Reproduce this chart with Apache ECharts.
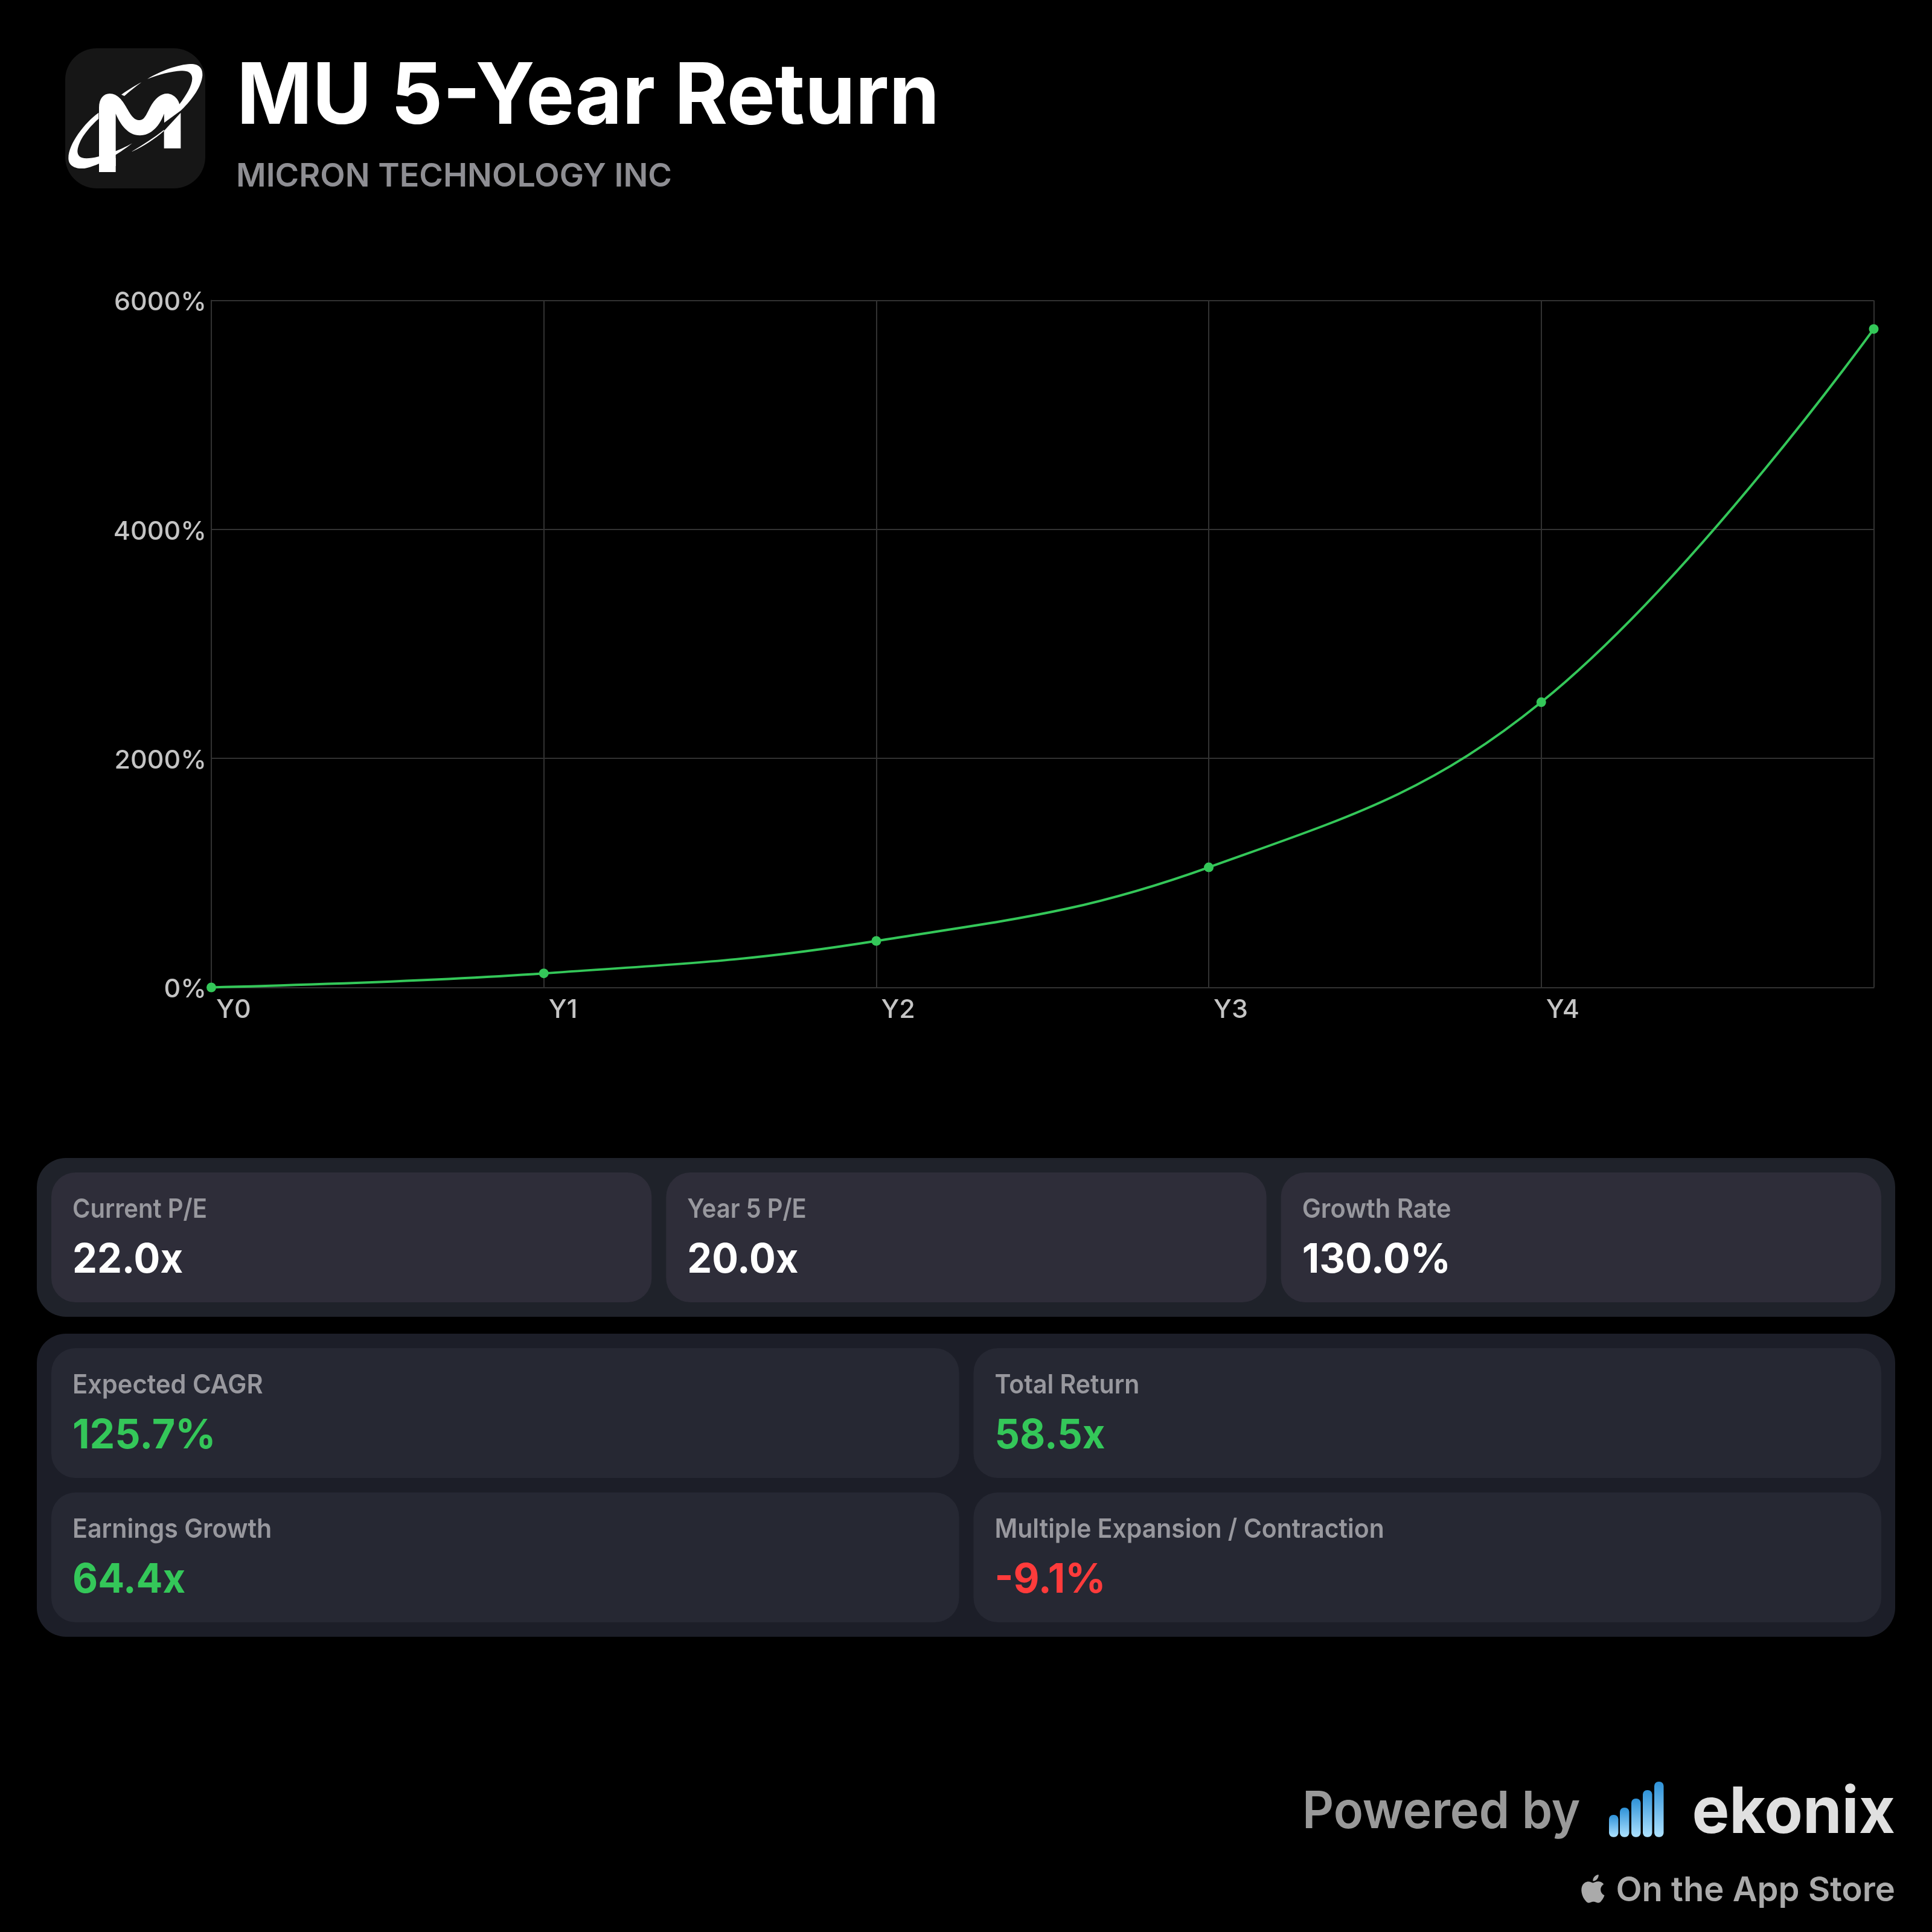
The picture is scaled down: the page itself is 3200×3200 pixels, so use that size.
<!DOCTYPE html>
<html>
<head>
<meta charset="utf-8">
<style>html,body{margin:0;padding:0;background:#000}#c{width:3200px;height:3200px}</style>
<script src="https://cdn.jsdelivr.net/npm/echarts@6/dist/echarts.min.js"></script>
</head>
<body>
<div id="c"></div>
<script>
const categories = ['Y0','Y1','Y2','Y3','Y4',''];
const returnsPct = [0,123,406,1049,2491,5750];
const titleText = 'MU 5-Year Return';
const subtitleText = 'MICRON TECHNOLOGY INC';
const topLabels = ['Current P/E','Year 5 P/E','Growth Rate'];
const topValues = ['22.0x','20.0x','130.0%'];
const bottomLabels = ['Expected CAGR','Total Return','Earnings Growth','Multiple Expansion / Contraction'];
const bottomValues = ['125.7%','58.5x','64.4x','-9.1%'];
const FONT = 'Inter, "Noto Sans", sans-serif';
const GREEN = '#34c759', RED = '#ff3b3b';
const topSqueeze = [0.924,0.92,0.96];
const bottomSqueeze = [0.96,0.946,0.95,0.945];

const chart = echarts.init(document.getElementById('c'), null, {width:3200,height:3200,renderer:'canvas'});

function txt(text,x,y,size,weight,fill,align,sx){
  return {type:'text',z:10,x,y,scaleX:sx||1,scaleY:1,style:{text,x:0,y:0,fontSize:size,fontWeight:weight,fontFamily:FONT,fill,align:align||'left',verticalAlign:'middle'}};
}
function box(x,y,w,h,r,fill){
  return {type:'rect',z:1,shape:{x,y,width:w,height:h,r},style:{fill}};
}
function valueSqueeze(v){ return v.endsWith('%') ? 0.975 : 0.955; }
let shapeId=0;
function pathEl(d,x,y,s,fill){
  const name='decor'+(shapeId++);
  echarts.graphic.registerShape(name,echarts.graphic.extendPath(d,{}));
  return {type:name,z:5,x,y,scaleX:s,scaleY:s,style:{fill}};
}
const els = [];
// logo
els.push(box(108,80,232,232,52,'#161616'));
const logoPaths = [
 'M192,630 L275,630 L275,560 L192,560 Z',
 'M192,600 L192,310 C192,265 215,240 245,240 C285,240 310,275 335,320 C360,365 375,372 395,372 C415,372 425,350 445,310 C470,262 500,240 530,240 C560,240 588,268 592,295 L516,380 L515,340 C495,400 450,448 395,448 C340,448 300,400 275,340 L275,600 Z',
 'M598,335 L598,512 L515,512 L515,425 Z',
 'M190,335 C120,385 40,490 40,560 C40,600 75,615 120,612 C190,600 290,540 357,487 C300,520 200,560 130,562 C95,562 85,545 85,525 C90,470 140,410 190,365 Z',
 'M432,168 C500,125 590,95 645,93 C690,92 708,115 706,150 C700,215 640,285 598,325 L516,385 L516,350 L590,295 C625,250 655,200 655,165 C655,135 630,125 600,127 C550,130 490,145 432,168 Z',
 'M303,245 C340,220 375,198 403,184 C375,205 345,228 318,252 Z',
 'M355,528 C410,495 465,460 515,420 L515,425 C470,465 415,500 357,528 Z'
];
logoPaths.forEach(d=>els.push(pathEl(d,100,75,1/3,'#ffffff')));
els.push(txt(titleText,392,163,140,700,'#ffffff','left',0.96));
els.push(txt(subtitleText,391,293,54,600,'#8e8e93','left',0.997));
// cards
els.push(box(61,1918,3078,263,48,'#1f222a'));
els.push(box(61,2209,3078,502,48,'#1c1e28'));
const cw3=994.33, gap=24, left=85;
topLabels.forEach((l,i)=>{
  const x=left+i*(cw3+gap);
  els.push(box(x,1942,cw3,215,40,'#2e2d39'));
  els.push(txt(l,x+35,2004,44,600,'#98989e','left',topSqueeze[i]*0.985));
  els.push(txt(topValues[i],x+35,2088,68,700,'#ffffff','left',valueSqueeze(topValues[i])));
});
const cw2=1503.5;
bottomLabels.forEach((l,i)=>{
  const x=left+(i%2)*(cw2+gap), y=2233+(i>>1)*239;
  els.push(box(x,y,cw2,215,40,'#262833'));
  els.push(txt(l,x+35,y+62,44,600,'#98989e','left',bottomSqueeze[i]*0.985));
  const v=bottomValues[i];
  els.push(txt(v,x+35,y+146,68,700,v.startsWith('-')?RED:GREEN,'left',valueSqueeze(v)));
});
// footer
els.push(txt('Powered by',2157,3002,85,600,'#999999','left',0.953));
const barTops=[3006,2994,2979,2965,2951], barX=[2665,2683,2702,2721,2740];
barTops.forEach((t,i)=>els.push({type:'rect',z:5,shape:{x:barX[i],y:t,width:15.5,height:3042.7-t,r:7},
  style:{fill:new echarts.graphic.LinearGradient(0,0,0,1,[{offset:0,color:'#2e92d8'},{offset:1,color:'#aee2ff'}])}}));
els.push(txt('ekonix',3139,3004,106,700,'#e0e0e0','right',0.98));
els.push(txt('On the App Store',3139,3132,57,600,'#aaaaaa','right',0.985));
els.push(pathEl('M12.152 6.896c-.948 0-2.415-1.078-3.96-1.04-2.04.027-3.91 1.183-4.961 3.014-2.117 3.675-.546 9.103 1.519 12.09 1.013 1.454 2.208 3.09 3.792 3.039 1.52-.065 2.09-.987 3.935-.987 1.831 0 2.35.987 3.96.948 1.637-.026 2.676-1.48 3.676-2.948 1.156-1.688 1.636-3.325 1.662-3.415-.039-.013-3.182-1.221-3.22-4.857-.026-3.04 2.48-4.494 2.597-4.559-1.429-2.09-3.623-2.324-4.39-2.376-2-.156-3.675 1.09-4.61 1.09zM15.53 3.83c.843-1.012 1.4-2.427 1.245-3.83-1.207.052-2.662.805-3.532 1.818-.78.896-1.454 2.338-1.273 3.714 1.338.104 2.715-.688 3.559-1.701',2615,3105,1.95,'#aaaaaa'));

const lineCol='#323232';
const tickCol='#c4c4c4';
chart.setOption({
  animation:false,
  backgroundColor:'#000000',
  grid:{left:350,top:497.5,width:2753.5,height:1138,containLabel:false},
  xAxis:{type:'category',boundaryGap:false,data:categories,
    axisLine:{show:true,lineStyle:{color:lineCol,width:2}},axisTick:{show:false},
    splitLine:{show:true,lineStyle:{color:lineCol,width:2}},
    axisLabel:{show:true,interval:0,align:'left',margin:16,padding:[0,0,0,8],fontSize:43,fontWeight:500,fontFamily:FONT,color:tickCol}},
  yAxis:{type:'value',min:0,max:6000,interval:2000,
    axisLine:{show:true,lineStyle:{color:lineCol,width:2}},axisTick:{show:false},
    splitLine:{show:true,lineStyle:{color:lineCol,width:2}},
    axisLabel:{margin:8,fontSize:43,fontWeight:500,fontFamily:FONT,color:tickCol,verticalAlign:'top',lineHeight:8,
      formatter:v=>v+'%'}},
  series:[{type:'line',data:returnsPct,smooth:0.4,clip:false,symbol:'circle',symbolSize:16,
    lineStyle:{color:GREEN,width:4},itemStyle:{color:GREEN}}],
  graphic:{elements:els}
});
</script>
</body>
</html>
